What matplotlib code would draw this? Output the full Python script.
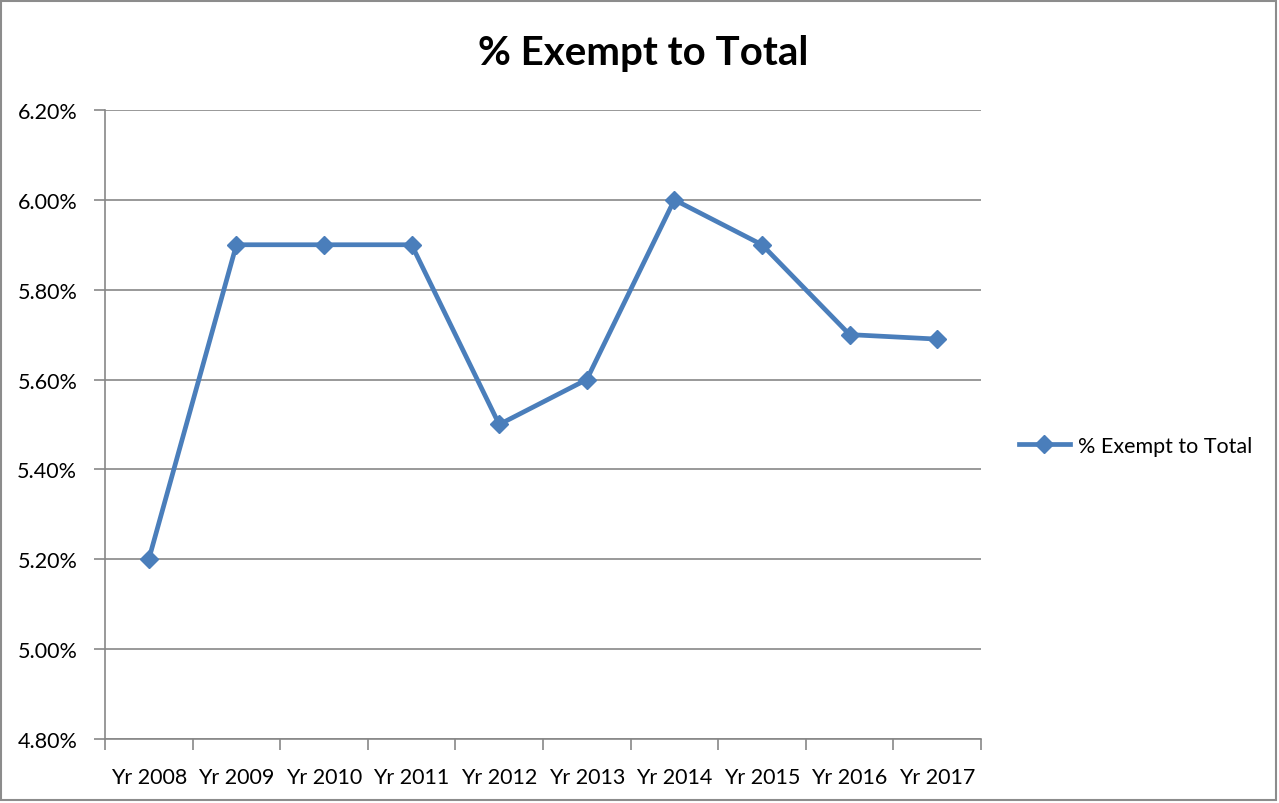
import numpy as np
import matplotlib.pyplot as plt
from matplotlib.patches import Rectangle
from matplotlib.ticker import FuncFormatter

years = ["Yr 2008", "Yr 2009", "Yr 2010", "Yr 2011", "Yr 2012",
         "Yr 2013", "Yr 2014", "Yr 2015", "Yr 2016", "Yr 2017"]
pct_exempt = [5.20, 5.90, 5.90, 5.90, 5.50, 5.60, 6.00, 5.90, 5.70, 5.69]

plt.rcParams['font.family'] = ['Lato', 'DejaVu Sans']

blue = '#4A7EBB'
grid_col = '#878787'

fig = plt.figure(figsize=(12.79, 8.04), dpi=100)
ax = fig.add_axes([0.0821, 0.0796, 0.767 - 0.0821, 0.862 - 0.0796])

x = np.arange(len(years))
ax.plot(x, pct_exempt, color=blue, lw=3.4, marker='D', ms=9.5,
        label='% Exempt to Total', solid_joinstyle='round')

ax.set_xlim(-0.5, len(years) - 0.5)
ax.set_ylim(4.80, 6.20)
ax.set_yticks(np.arange(4.80, 6.21, 0.20))
ax.yaxis.set_major_formatter(FuncFormatter(lambda v, p: f"{v:.2f}%"))

# category boundaries get tick marks, labels sit at the centres
ax.set_xticks(np.arange(-0.5, len(years), 1.0))
ax.set_xticklabels([])
ax.set_xticks(x, minor=True)
ax.set_xticklabels(years, minor=True)
ax.tick_params(axis='x', which='major', length=8, color=grid_col, width=1.2)
ax.tick_params(axis='x', which='minor', length=0, pad=20, labelsize=15.5)
ax.tick_params(axis='y', length=8, color=grid_col, width=1.2, pad=12, labelsize=15.5)

ax.grid(axis='y', color=grid_col, lw=1.2)
ax.set_axisbelow(True)
for s in ['top', 'right']:
    ax.spines[s].set_visible(False)
for s in ['left', 'bottom']:
    ax.spines[s].set_color(grid_col)
    ax.spines[s].set_linewidth(1.2)

fig.text(0.503, 0.934, '% Exempt to Total', ha='center', va='center',
         fontsize=29, fontweight='bold')

ax.legend(loc='center left', bbox_to_anchor=(1.043, 0.466), frameon=False,
          fontsize=15.5, handlelength=2.4, handletextpad=0.35,
          borderaxespad=0, borderpad=0)

fig.patches.append(Rectangle((0.001, 0.004), 0.997, 0.994, transform=fig.transFigure,
                             fill=False, edgecolor='#8c8c8c', lw=1.5))

fig.savefig('out.png', dpi=100)
